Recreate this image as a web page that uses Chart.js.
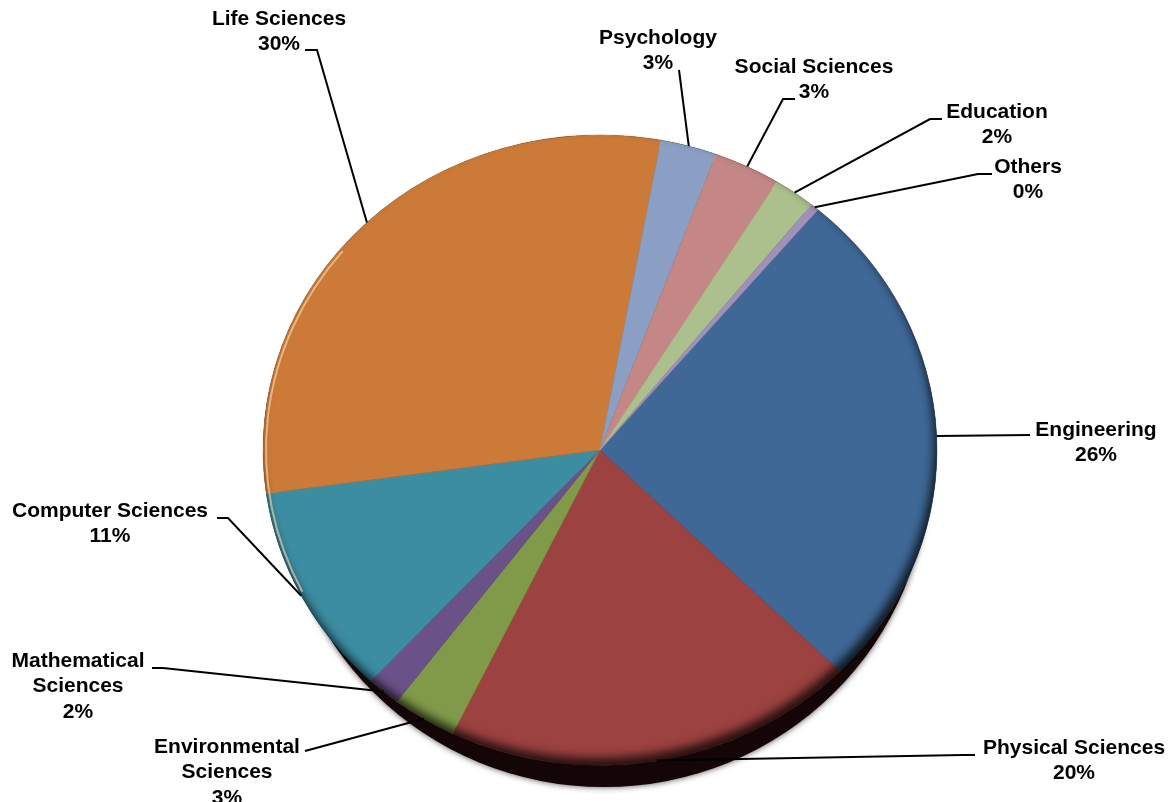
<!DOCTYPE html>
<html lang="en">
  <head>
    <meta charset="UTF-8" />
    <title>Share by field</title>
    <script src="https://cdn.jsdelivr.net/npm/chart.js"></script>
    <style>
      body {
        margin: 0;
        background: #fff;
      }
      .chart-container {
        width: 1172px;
        height: 802px;
      }
    </style>
  </head>
  <body>
    <div class="chart-container">
      <canvas id="fieldChart" width="1172" height="802"></canvas>
    </div>
    <script>
      // values (percent of total)
      const categories = [
        'Engineering',
        'Physical Sciences',
        'Environmental Sciences',
        'Mathematical Sciences',
        'Computer Sciences',
        'Life Sciences',
        'Psychology',
        'Social Sciences',
        'Education',
        'Others',
      ];
      const shares = [26.2, 19.8, 3.1, 1.6, 10.9, 30.1, 2.7, 3.2, 2.0, 0.4];
      const colors = [
        '#3f6896',
        '#9c4240',
        '#809a4a',
        '#6a5188',
        '#3c8ca2',
        '#cb7a38',
        '#8a9fc3',
        '#c48786',
        '#abc08c',
        '#9f91b8',
      ];

      // where each label sits (center x, first line y) and the leader elbow
      const labelLayout = [
        { x: 1096, y: 430, wrap: false, leader: [[1030, 435]] },
        { x: 1074, y: 748, wrap: false, leader: [[975, 755], [963, 755]] },
        { x: 227, y: 747, wrap: true, leader: [[305, 751]] },
        { x: 78, y: 661, wrap: true, leader: [[152, 668], [163, 668]] },
        { x: 110, y: 511, wrap: false, leader: [[217, 518], [228, 518]] },
        { x: 279, y: 19, wrap: false, leader: [[305, 50], [317, 50]] },
        { x: 658, y: 38, wrap: false, leader: [[679, 70]] },
        { x: 814, y: 67, wrap: false, leader: [[795, 99], [783, 99]] },
        { x: 997, y: 112, wrap: false, leader: [[942, 119], [930, 119]] },
        { x: 1028, y: 167, wrap: false, leader: [[992, 174], [978, 174]] },
      ];

      const SQUASH = 0.935; // pie is a little flatter than round

      function ellipsePath(ctx, x, y, rx, ry) {
        ctx.beginPath();
        ctx.ellipse(x, y, rx, ry, 0, 0, Math.PI * 2);
      }

      const pieLook = {
        id: 'pieLook',
        beforeDatasetsDraw(chart) {
          const arc = chart.getDatasetMeta(0).data[0];
          const { x, y, outerRadius } = arc.getProps(['x', 'y', 'outerRadius'], true);
          const ctx = chart.ctx;
          // drop shadow under the pie
          ctx.save();
          ctx.shadowColor = 'rgba(10,0,0,0.7)';
          ctx.shadowBlur = 6;
          ctx.fillStyle = '#140606';
          ellipsePath(ctx, x + 4, y + 16, outerRadius - 12, outerRadius * SQUASH + 6);
          ctx.fill();
          ctx.restore();
          // flatten the pie itself
          ctx.save();
          ctx.translate(x, y);
          ctx.scale(1, SQUASH);
          ctx.translate(-x, -y);
        },
        afterDatasetsDraw(chart) {
          const ctx = chart.ctx;
          ctx.restore();
          const arc = chart.getDatasetMeta(0).data[0];
          const { x, y, outerRadius } = arc.getProps(['x', 'y', 'outerRadius'], true);
          const ry = outerRadius * SQUASH;
          // inner darkening on the lower right rim
          ctx.save();
          ellipsePath(ctx, x, y, outerRadius, ry);
          ctx.clip();
          ctx.beginPath();
          ctx.rect(0, 0, chart.width, chart.height);
          ctx.ellipse(x, y, outerRadius, ry, 0, 0, Math.PI * 2, true);
          ctx.shadowColor = 'rgba(0,0,0,0.75)';
          ctx.shadowBlur = 10;
          ctx.shadowOffsetX = -3;
          ctx.shadowOffsetY = -7;
          ctx.fillStyle = '#000';
          ctx.fill();
          ctx.restore();
          // light rim on the upper left
          ctx.save();
          ctx.strokeStyle = 'rgba(255,225,180,0.6)';
          ctx.lineWidth = 2;
          ctx.beginPath();
          ctx.ellipse(x, y, outerRadius - 3, ry - 3, 0, Math.PI * 0.85, Math.PI * 1.22);
          ctx.stroke();
          ctx.restore();
        },
        afterDraw(chart) {
          const ctx = chart.ctx;
          const meta = chart.getDatasetMeta(0);
          const total = shares.reduce((a, b) => a + b, 0);
          ctx.save();
          ctx.font = 'bold 21px "Liberation Sans", Arial, sans-serif';
          ctx.textAlign = 'center';
          ctx.textBaseline = 'middle';
          ctx.fillStyle = '#000';
          ctx.strokeStyle = '#000';
          ctx.lineWidth = 2;
          meta.data.forEach((el, i) => {
            const p = el.getProps(['x', 'y', 'startAngle', 'endAngle', 'outerRadius'], true);
            const mid = (p.startAngle + p.endAngle) / 2;
            const ex = p.x + Math.cos(mid) * p.outerRadius;
            const ey = p.y + Math.sin(mid) * p.outerRadius * SQUASH;
            const lay = labelLayout[i];
            ctx.beginPath();
            lay.leader.forEach((pt, k) => (k ? ctx.lineTo(pt[0], pt[1]) : ctx.moveTo(pt[0], pt[1])));
            ctx.lineTo(ex, ey);
            ctx.stroke();
            const lines = lay.wrap ? categories[i].split(' ') : [categories[i]];
            lines.push(Math.round((shares[i] / total) * 100) + '%');
            lines.forEach((t, k) => ctx.fillText(t, lay.x, lay.y + k * 25.5));
          });
          ctx.restore();
        },
      };

      new Chart(document.getElementById('fieldChart').getContext('2d'), {
        type: 'pie',
        data: {
          labels: categories,
          datasets: [
            {
              data: shares,
              backgroundColor: colors,
              borderColor: colors,
              borderWidth: 0.5,
              hoverOffset: 0,
            },
          ],
        },
        options: {
          responsive: false,
          animation: false,
          rotation: 40.3,
          radius: 337,
          layout: { padding: { left: 263, right: 235, top: 100, bottom: 2 } },
          plugins: {
            legend: { display: false },
            tooltip: { enabled: false },
          },
        },
        plugins: [pieLook],
      });
    </script>
  </body>
</html>
